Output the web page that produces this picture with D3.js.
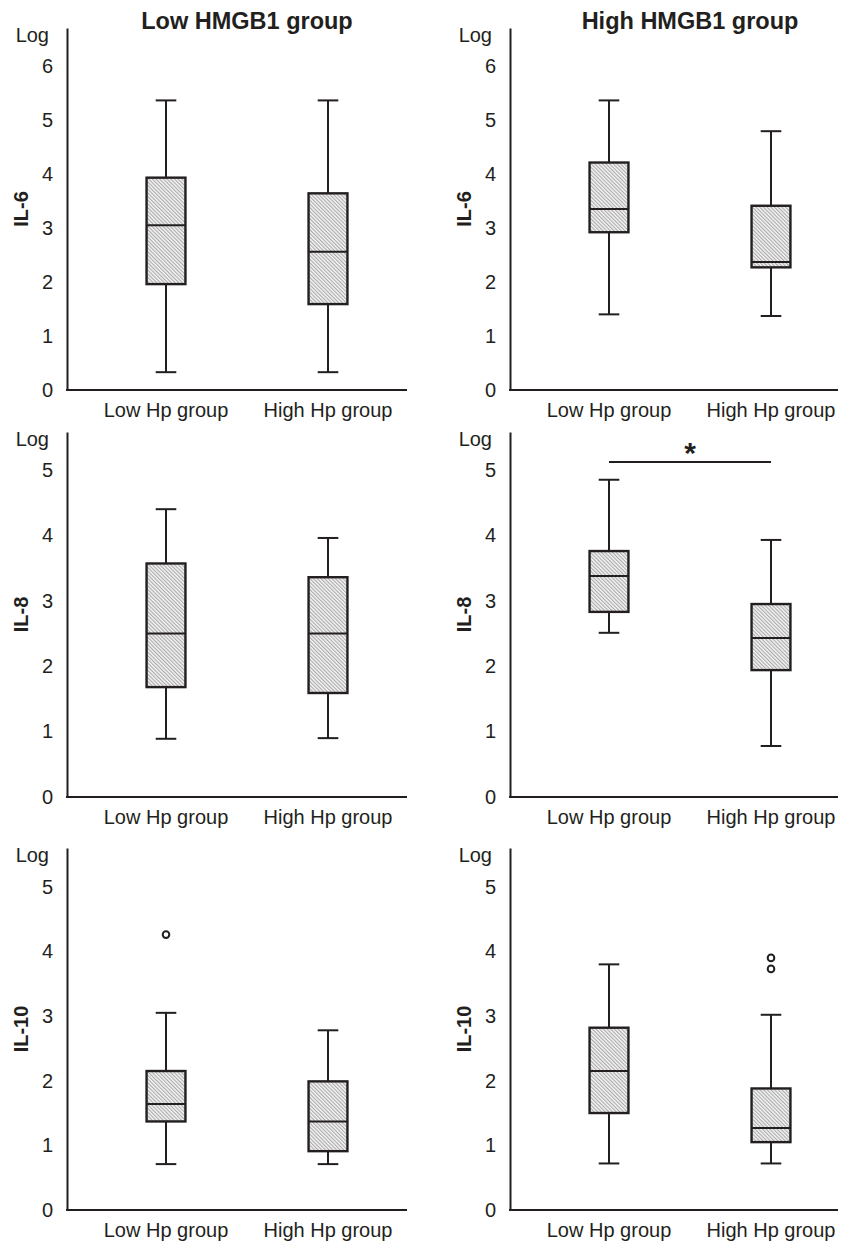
<!DOCTYPE html>
<html>
<head>
<meta charset="utf-8">
<script src="https://cdn.jsdelivr.net/npm/d3@7"></script>
<style>
  body { margin: 0; background: #fff; }
  svg { display: block; font-family: 'Liberation Sans', Arial, sans-serif; }
</style>
</head>
<body>
<svg id="chart" width="847" height="1242"></svg>
<script>
const panelTitles = ['Low HMGB1 group', 'High HMGB1 group'];
const hpGroups = ['Low Hp group', 'High Hp group'];
const cytokines = ['IL-6', 'IL-8', 'IL-10'];
const yMaxByRow = [6.7, 5.58, 5.6];
const yTicksByRow = [[0, 1, 2, 3, 4, 5, 6], [0, 1, 2, 3, 4, 5], [0, 1, 2, 3, 4, 5]];

// [lower whisker, Q1, median, Q3, upper whisker] for Low Hp, High Hp
const il6LowHMGB1 = [[0.33, 1.96, 3.05, 3.93, 5.36], [0.33, 1.59, 2.56, 3.64, 5.36]];
const il6HighHMGB1 = [[1.40, 2.92, 3.35, 4.21, 5.36], [1.37, 2.27, 2.37, 3.41, 4.79]];
const il8LowHMGB1 = [[0.89, 1.68, 2.50, 3.57, 4.40], [0.90, 1.59, 2.50, 3.36, 3.96]];
const il8HighHMGB1 = [[2.51, 2.83, 3.38, 3.76, 4.85], [0.78, 1.94, 2.43, 2.95, 3.93]];
const il10LowHMGB1 = [[0.71, 1.37, 1.64, 2.15, 3.05], [0.71, 0.91, 1.37, 1.99, 2.78]];
const il10HighHMGB1 = [[0.72, 1.50, 2.15, 2.82, 3.80], [0.72, 1.05, 1.27, 1.88, 3.02]];

// outliers per Hp group
const il10LowHMGB1Outliers = [[4.26], []];
const il10HighHMGB1Outliers = [[], [3.90, 3.73]];

// significance mark: IL-8, High HMGB1 group
const sigValue = 5.12;
const sigLabel = '*';

const boxData = [
  [il6LowHMGB1, il6HighHMGB1],
  [il8LowHMGB1, il8HighHMGB1],
  [il10LowHMGB1, il10HighHMGB1],
];
const outlierData = [
  [[[], []], [[], []]],
  [[[], []], [[], []]],
  [il10LowHMGB1Outliers, il10HighHMGB1Outliers],
];

const ink = '#231f20';
const panelX = [67, 510];
const panelW = [340, 328];
const rowTop = [28, 432, 848];
const rowBase = [390, 797, 1210];

const svg = d3.select('#chart');

// diagonal hatch fill
const pat = svg.append('defs').append('pattern')
  .attr('id', 'hatch')
  .attr('patternUnits', 'userSpaceOnUse')
  .attr('width', 2.6)
  .attr('height', 2.6)
  .attr('patternTransform', 'rotate(-45)');
pat.append('rect').attr('width', 2.6).attr('height', 2.6).attr('fill', '#f4f4f4');
pat.append('line')
  .attr('x1', 0.6).attr('y1', 0).attr('x2', 0.6).attr('y2', 2.6)
  .attr('stroke', '#9a9a9a').attr('stroke-width', 0.9);

cytokines.forEach((name, r) => {
  const h = rowBase[r] - rowTop[r];
  const y = d3.scaleLinear().domain([0, yMaxByRow[r]]).range([h, 0]);

  panelTitles.forEach((title, p) => {
    const g = svg.append('g')
      .attr('transform', `translate(${panelX[p]},${rowTop[r]})`);
    const x = d3.scaleBand().domain(hpGroups).range([18, 342]);
    const cx = (d) => x(d) + x.bandwidth() / 2;
    const bw = x.bandwidth() * 0.24;
    const cw = bw * 0.53;

    // y axis
    const ya = g.append('g')
      .call(d3.axisLeft(y)
        .tickValues(yTicksByRow[r])
        .tickFormat(d3.format('d'))
        .tickSize(0).tickSizeOuter(0).tickPadding(14))
      .attr('font-family', null)
      .attr('font-size', 20);
    ya.select('.domain').attr('stroke', ink).attr('stroke-width', 2);
    ya.selectAll('text').attr('fill', ink);

    // x axis
    const xa = g.append('g')
      .attr('transform', `translate(0,${h})`)
      .call(d3.axisBottom(x).tickSize(0).tickPadding(13))
      .attr('font-family', null)
      .attr('font-size', 20);
    xa.select('.domain').remove();
    xa.selectAll('text').attr('fill', ink);
    g.append('line')
      .attr('x1', -1).attr('x2', panelW[p])
      .attr('y1', h).attr('y2', h)
      .attr('stroke', ink).attr('stroke-width', 2);

    g.append('text')
      .attr('x', -18).attr('y', 14)
      .attr('text-anchor', 'end')
      .attr('font-size', 20)
      .attr('fill', ink)
      .text('Log');

    g.append('text')
      .attr('transform', `translate(-39,${h / 2}) rotate(-90)`)
      .attr('text-anchor', 'middle')
      .attr('font-size', 20)
      .attr('font-weight', 'bold')
      .attr('fill', ink)
      .text(name);

    if (r === 0) {
      g.append('text')
        .attr('x', (cx(hpGroups[0]) + cx(hpGroups[1])) / 2)
        .attr('y', 1)
        .attr('text-anchor', 'middle')
        .attr('font-size', 23.5)
        .attr('font-weight', 'bold')
        .attr('fill', ink)
        .text(title);
    }

    const stats = boxData[r][p];
    const boxes = g.selectAll('g.box')
      .data(hpGroups.map((grp, i) => ({ grp, s: stats[i], out: outlierData[r][p][i] })))
      .join('g')
      .attr('class', 'box')
      .attr('transform', (d) => `translate(${cx(d.grp)},0)`);

    // whisker stems
    boxes.append('line')
      .attr('y1', (d) => y(d.s[4])).attr('y2', (d) => y(d.s[3]))
      .attr('stroke', ink).attr('stroke-width', 2);
    boxes.append('line')
      .attr('y1', (d) => y(d.s[1])).attr('y2', (d) => y(d.s[0]))
      .attr('stroke', ink).attr('stroke-width', 2);
    // caps
    [0, 4].forEach((k) => {
      boxes.append('line')
        .attr('x1', -cw / 2).attr('x2', cw / 2)
        .attr('y1', (d) => y(d.s[k])).attr('y2', (d) => y(d.s[k]))
        .attr('stroke', ink).attr('stroke-width', 2);
    });
    boxes.append('rect')
      .attr('x', -bw / 2)
      .attr('width', bw)
      .attr('y', (d) => y(d.s[3]))
      .attr('height', (d) => y(d.s[1]) - y(d.s[3]))
      .attr('fill', 'url(#hatch)')
      .attr('stroke', ink).attr('stroke-width', 2.4);
    boxes.append('line')
      .attr('x1', -bw / 2).attr('x2', bw / 2)
      .attr('y1', (d) => y(d.s[2])).attr('y2', (d) => y(d.s[2]))
      .attr('stroke', ink).attr('stroke-width', 2);
    boxes.selectAll('circle')
      .data((d) => d.out)
      .join('circle')
      .attr('cy', (v) => y(v))
      .attr('r', 3.3)
      .attr('fill', '#fff')
      .attr('stroke', ink).attr('stroke-width', 2);

    if (r === 1 && p === 1) {
      g.append('line')
        .attr('x1', cx(hpGroups[0])).attr('x2', cx(hpGroups[1]))
        .attr('y1', y(sigValue)).attr('y2', y(sigValue))
        .attr('stroke', ink).attr('stroke-width', 2);
      g.append('text')
        .attr('x', (cx(hpGroups[0]) + cx(hpGroups[1])) / 2)
        .attr('y', y(sigValue) + 1)
        .attr('text-anchor', 'middle')
        .attr('font-size', 30)
        .attr('font-weight', 'bold')
        .attr('fill', ink)
        .text(sigLabel);
    }
  });
});
</script>
</body>
</html>
